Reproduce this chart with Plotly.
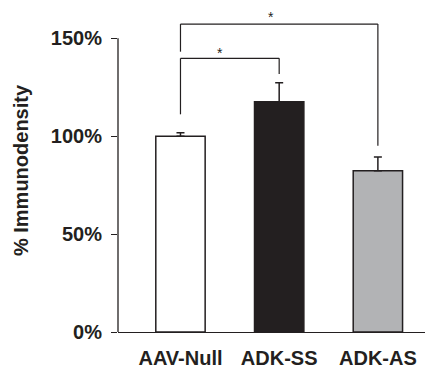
import plotly.graph_objects as go

categories = ["AAV-Null", "ADK-SS", "ADK-AS"]
values = [100, 117.6, 82.4]
errors = [1.8, 9.7, 7.0]
bar_colors = ["#ffffff", "#231f20", "#b2b3b5"]
y_ticks = [0, 50, 100, 150]
y_tick_labels = ["0%", "50%", "100%", "150%"]

# significance brackets: (left idx, right idx, top, left leg bottom, right leg bottom, star x, star y)
brackets = [
    (0, 1, 139.8, 111.2, 131.8, 0.40, 142.5),
    (0, 2, 157.3, 143.2, 95.2, 0.92, 161.0),
]

INK = "#231f20"

fig = go.Figure()
fig.add_trace(go.Bar(
    x=categories, y=values,
    marker=dict(color=bar_colors, line=dict(color=INK, width=1.5)),
    width=0.5,
    error_y=dict(type="data", array=errors, arrayminus=[0, 0, 0], symmetric=False,
                 color=INK, thickness=1.5, width=4),
))

shapes = [dict(type="line", xref="paper", yref="y", x0=0, x1=0, y0=y_ticks[0], y1=y_ticks[-1],
               line=dict(color=INK, width=1.3))]
annotations = []
for l, r, top, lb, rb, sx, sy in brackets:
    shapes.append(dict(type="line", xref="x", yref="y", x0=l, x1=l, y0=lb, y1=top, line=dict(color=INK, width=1.2)))
    shapes.append(dict(type="line", xref="x", yref="y", x0=l, x1=r, y0=top, y1=top, line=dict(color=INK, width=1.2)))
    shapes.append(dict(type="line", xref="x", yref="y", x0=r, x1=r, y0=rb, y1=top, line=dict(color=INK, width=1.2)))
    annotations.append(dict(x=sx, y=sy, xref="x", yref="y", text="*", showarrow=False,
                            font=dict(size=14, color=INK, family="Liberation Sans")))

FONT = dict(size=20, family="Liberation Sans", color=INK, weight="bold")

fig.update_layout(
    width=425, height=363,
    margin=dict(l=110, r=3, t=1, b=39),
    plot_bgcolor="white", paper_bgcolor="white",
    showlegend=False,
    font=dict(family="Liberation Sans", color=INK),
    shapes=shapes, annotations=annotations,
    xaxis=dict(range=[-0.633, 2.528], showline=True, linecolor=INK, linewidth=1.3,
               ticks="", showgrid=False, zeroline=False, automargin=False,
               tickfont=FONT, ticklabelstandoff=8),
    yaxis=dict(range=[0, 165], showline=False, tickvals=y_ticks, ticktext=y_tick_labels,
               ticks="outside", ticklen=6, tickwidth=1.3, tickcolor=INK,
               showgrid=False, zeroline=False, automargin=False,
               tickfont=FONT, ticklabelstandoff=5,
               title=dict(text="% Immunodensity", standoff=16, font=FONT)),
)

fig.write_html("out.html")
